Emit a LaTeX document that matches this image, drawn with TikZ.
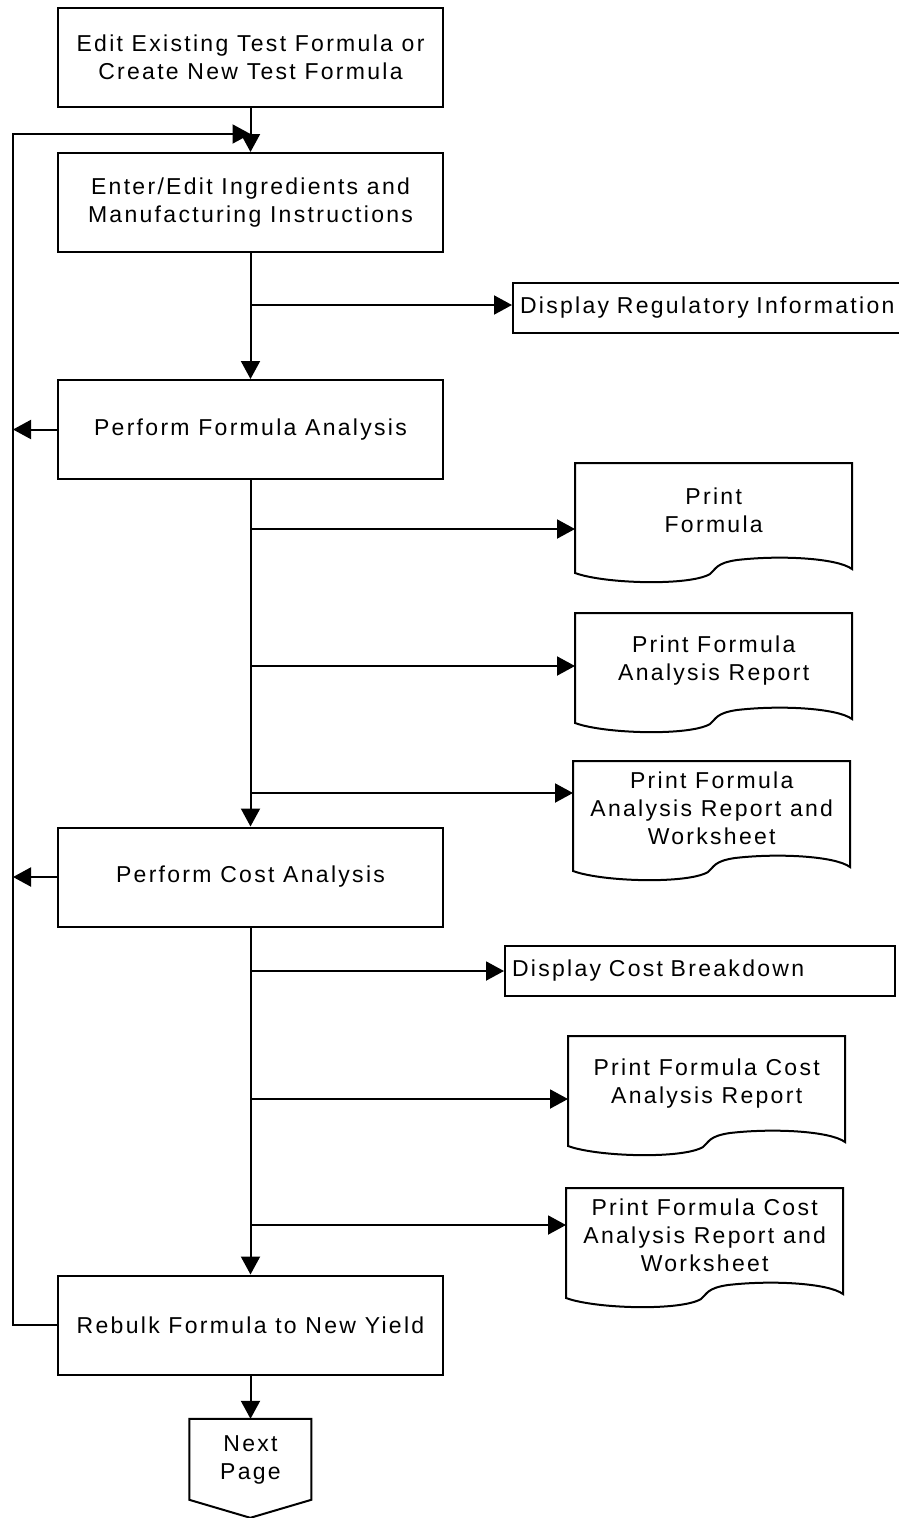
\documentclass[tikz,border=0pt]{standalone}
\usepackage{fontspec}
\setmainfont[LetterSpace=10]{Liberation Sans}
\usetikzlibrary{arrows.meta}
\tikzset{
  proc/.style={draw, line width=2pt, minimum width=385pt, minimum height=99pt, inner sep=0pt, align=center},
  disp/.style={draw, line width=2pt, minimum width=390pt, minimum height=50pt, text width=376pt, inner xsep=7pt, inner ysep=0pt, align=left, anchor=west},
  doc/.style={minimum width=277pt, minimum height=94pt, inner sep=0pt, align=center, anchor=north west},
  arr/.style={line width=2pt, -{Triangle[length=18pt,width=19pt]}},
}
% printed document outline, hung on the node's north west corner
\newcommand{\docframe}[1]{\draw [line width=2pt, shift={(#1.north west)}] (0,0) -- (0,110) .. controls (30,121) and (115,123) .. (135,111) .. controls (141,106) and (141,100) .. (162,97) .. controls (205,92) and (262,95) .. (277,106) -- (277,0) -- cycle ;}
\begin{document}
\begin{tikzpicture}[x=1pt,y=1pt,yscale=-1,font=\fontsize{23pt}{28pt}\selectfont]
\useasboundingbox (0,0) rectangle (899,1518);

%Shape: Rectangle [edit]
\node [proc] (edit) at (250.5,57.5) {Edit Existing Test Formula or\\Create New Test Formula};
%Shape: Rectangle [enter]
\node [proc] (enter) at (250.5,202.5) {Enter/Edit Ingredients and\\Manufacturing Instructions};
%Shape: Rectangle [analysis]
\node [proc] (analysis) at (250.5,429.5) {Perform Formula Analysis};
%Shape: Rectangle [cost]
\node [proc] (cost) at (250.5,877) {Perform Cost Analysis};
%Shape: Rectangle [rebulk]
\node [proc] (rebulk) at (250.5,1325) {Rebulk Formula to New Yield};

%Shape: Rectangle [regul]
\node [disp] (regul) at (512,308) {Display Regulatory Information};
%Shape: Rectangle [breakdown]
\node [disp] (breakdown) at (504,970.5) {Display Cost Breakdown};

%Shape: Document [prfml]
\node [doc] (prfml) at (575,463) {Print\\Formula};
\docframe{prfml}
%Shape: Document [prrep]
\node [doc] (prrep) at (575,613) {Print Formula\\Analysis Report};
\docframe{prrep}
%Shape: Document [prwks]
\node [doc] (prwks) at (573,761) {Print Formula\\Analysis Report and\\Worksheet};
\docframe{prwks}
%Shape: Document [prcost]
\node [doc] (prcost) at (568,1036) {Print Formula Cost\\Analysis Report};
\docframe{prcost}
%Shape: Document [prcwks]
\node [doc] (prcwks) at (566,1188) {Print Formula Cost\\Analysis Report and\\Worksheet};
\docframe{prcwks}

%Shape: Off-page [nextpg]
\node [minimum width=122pt, minimum height=82pt, inner sep=0pt, align=center] (nextpg) at (250.5,1460) {Next\\Page};
\draw [line width=2pt, shift={(nextpg.north west)}] (0,0) -- (0,81) -- (61,99) -- (122,81) -- (122,0) -- cycle ;

% Points on the main line and the loop rail
\coordinate (rail) at (13,134);
\coordinate (loopin) at (250.5,134);
\coordinate (b1) at (250.5,305);
\coordinate (b2) at (250.5,529);
\coordinate (b3) at (250.5,666);
\coordinate (b4) at (250.5,793);
\coordinate (b5) at (250.5,971);
\coordinate (b6) at (250.5,1099);
\coordinate (b7) at (250.5,1225);

%Main line
\draw [arr] (edit) -- (enter);
\draw [arr] (enter) -- (analysis);
\draw [arr] (analysis) -- (cost);
\draw [arr] (cost) -- (rebulk);
\draw [arr] (rebulk) -- (nextpg.north);

%Branches
\draw [arr] (b1) -- (b1 -| regul.west);
\draw [arr] (b2) -- (b2 -| prfml.west);
\draw [arr] (b3) -- (b3 -| prrep.west);
\draw [arr] (b4) -- (b4 -| prwks.west);
\draw [arr] (b5) -- (b5 -| breakdown.west);
\draw [arr] (b6) -- (b6 -| prcost.west);
\draw [arr] (b7) -- (b7 -| prcwks.west);

%Loop back
\draw [arr] (rebulk.west) -| (rail) -- (loopin);
\draw [arr] (analysis.west) -- (analysis.west -| rail);
\draw [arr] (cost.west) -- (cost.west -| rail);

\end{tikzpicture}
\end{document}
